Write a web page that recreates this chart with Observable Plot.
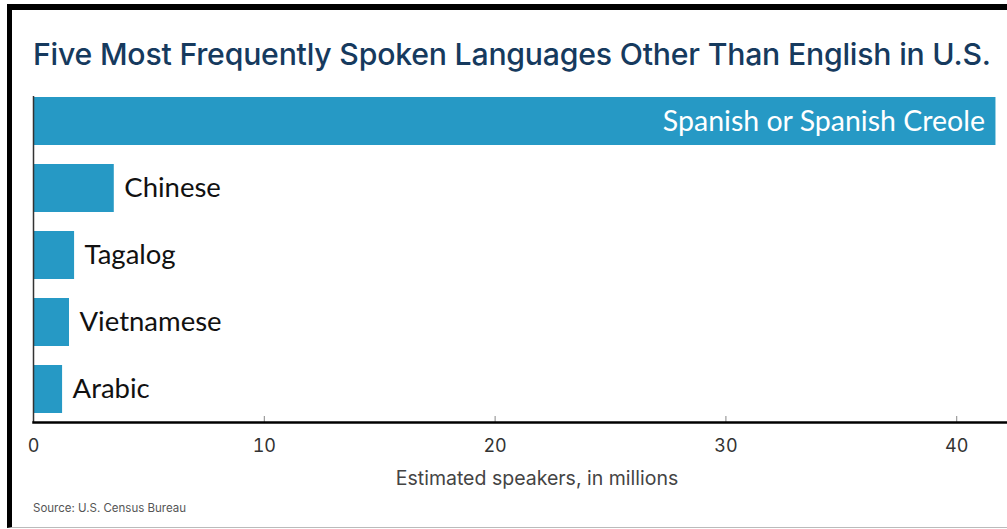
<!DOCTYPE html>
<html>
<head>
<meta charset="utf-8">
<script src="https://cdn.jsdelivr.net/npm/d3@7"></script>
<script src="https://cdn.jsdelivr.net/npm/@observablehq/plot@0.6"></script>
<style>
  html, body { margin: 0; padding: 0; background: #fff; }
  body { width: 1007px; height: 529px; position: relative; overflow: hidden; }
  #frame { position: absolute; left: 7px; top: 4px; width: 1010px; height: 517px;
           border-top: 6px solid #000; border-left: 5px solid #000; border-bottom: 1px solid #bbb; }
  #title { position: absolute; left: 33px; top: 36px; font-family: Inter, sans-serif; font-size: 28px; font-weight: 500;
           color: #163a5e; white-space: nowrap; line-height: 1.2; letter-spacing: -0.2px; }
  #chart { position: absolute; left: 0; top: 0; }
  #xlabel { position: absolute; left: 537px; top: 466px; transform: translateX(-50%);
            font-family: Inter, sans-serif; font-size: 19.5px; color: #444; white-space: nowrap; }
  #source { position: absolute; left: 33px; top: 501px; font-family: Inter, sans-serif; font-size: 11.5px;
            color: #555; white-space: nowrap; }
</style>
</head>
<body>
<div id="frame"></div>
<div id="title">Five Most Frequently Spoken Languages Other Than English in U.S.</div>
<div id="chart"></div>
<div id="xlabel">Estimated speakers, in millions</div>
<div id="source">Source: U.S. Census Bureau</div>
<script>
const languages = ["Spanish or Spanish Creole", "Chinese", "Tagalog", "Vietnamese", "Arabic"];
const speakers = [41.7, 3.5, 1.78, 1.56, 1.26];
const xTicks = [0, 10, 20, 30, 40];

const data = languages.map((lang, i) => ({lang, value: speakers[i]}));

// fit title to reference width
const title = document.getElementById("title");
const tw = title.getBoundingClientRect().width;
title.style.fontSize = (28 * 957 / tw).toFixed(2) + "px";

const chart = Plot.plot({
  width: 1007,
  height: 460,
  marginLeft: 33,
  marginRight: 0,
  marginTop: 96,
  marginBottom: 38,
  style: {background: "transparent", overflow: "visible"},
  x: {domain: [0, 42.2]},
  y: {domain: languages, paddingInner: 0.286, paddingOuter: 0.067, align: 0.11, axis: null},
  marks: [
    Plot.barX(data, {x: "value", y: "lang", fill: "#2699c5"}),
    Plot.ruleX([0], {stroke: "#333", strokeWidth: 1.5}),
    Plot.ruleX(xTicks.slice(1), {x: d => d, stroke: "#888", strokeWidth: 1, insetTop: 320}),
    Plot.frame({anchor: "bottom", stroke: "#000", strokeWidth: 2.5}),
    Plot.axisX({ticks: xTicks, tickSize: 0, tickPadding: 17, fontSize: 18, fontFamily: "Inter, sans-serif",
                fill: "#333", label: null, textAnchor: "middle"}),
    Plot.text(data.filter((d, i) => i === 0), {x: "value", y: "lang", text: "lang", textAnchor: "end", dx: -11,
               fill: "#fff", fontSize: 28.5, fontFamily: "Lato, sans-serif"}),
    Plot.text(data.filter((d, i) => i > 0), {x: "value", y: "lang", text: "lang", textAnchor: "start", dx: 10,
               fill: "#111", fontSize: 27.5, fontFamily: "Lato, sans-serif"})
  ]
});
document.getElementById("chart").appendChild(chart);
</script>
</body>
</html>
